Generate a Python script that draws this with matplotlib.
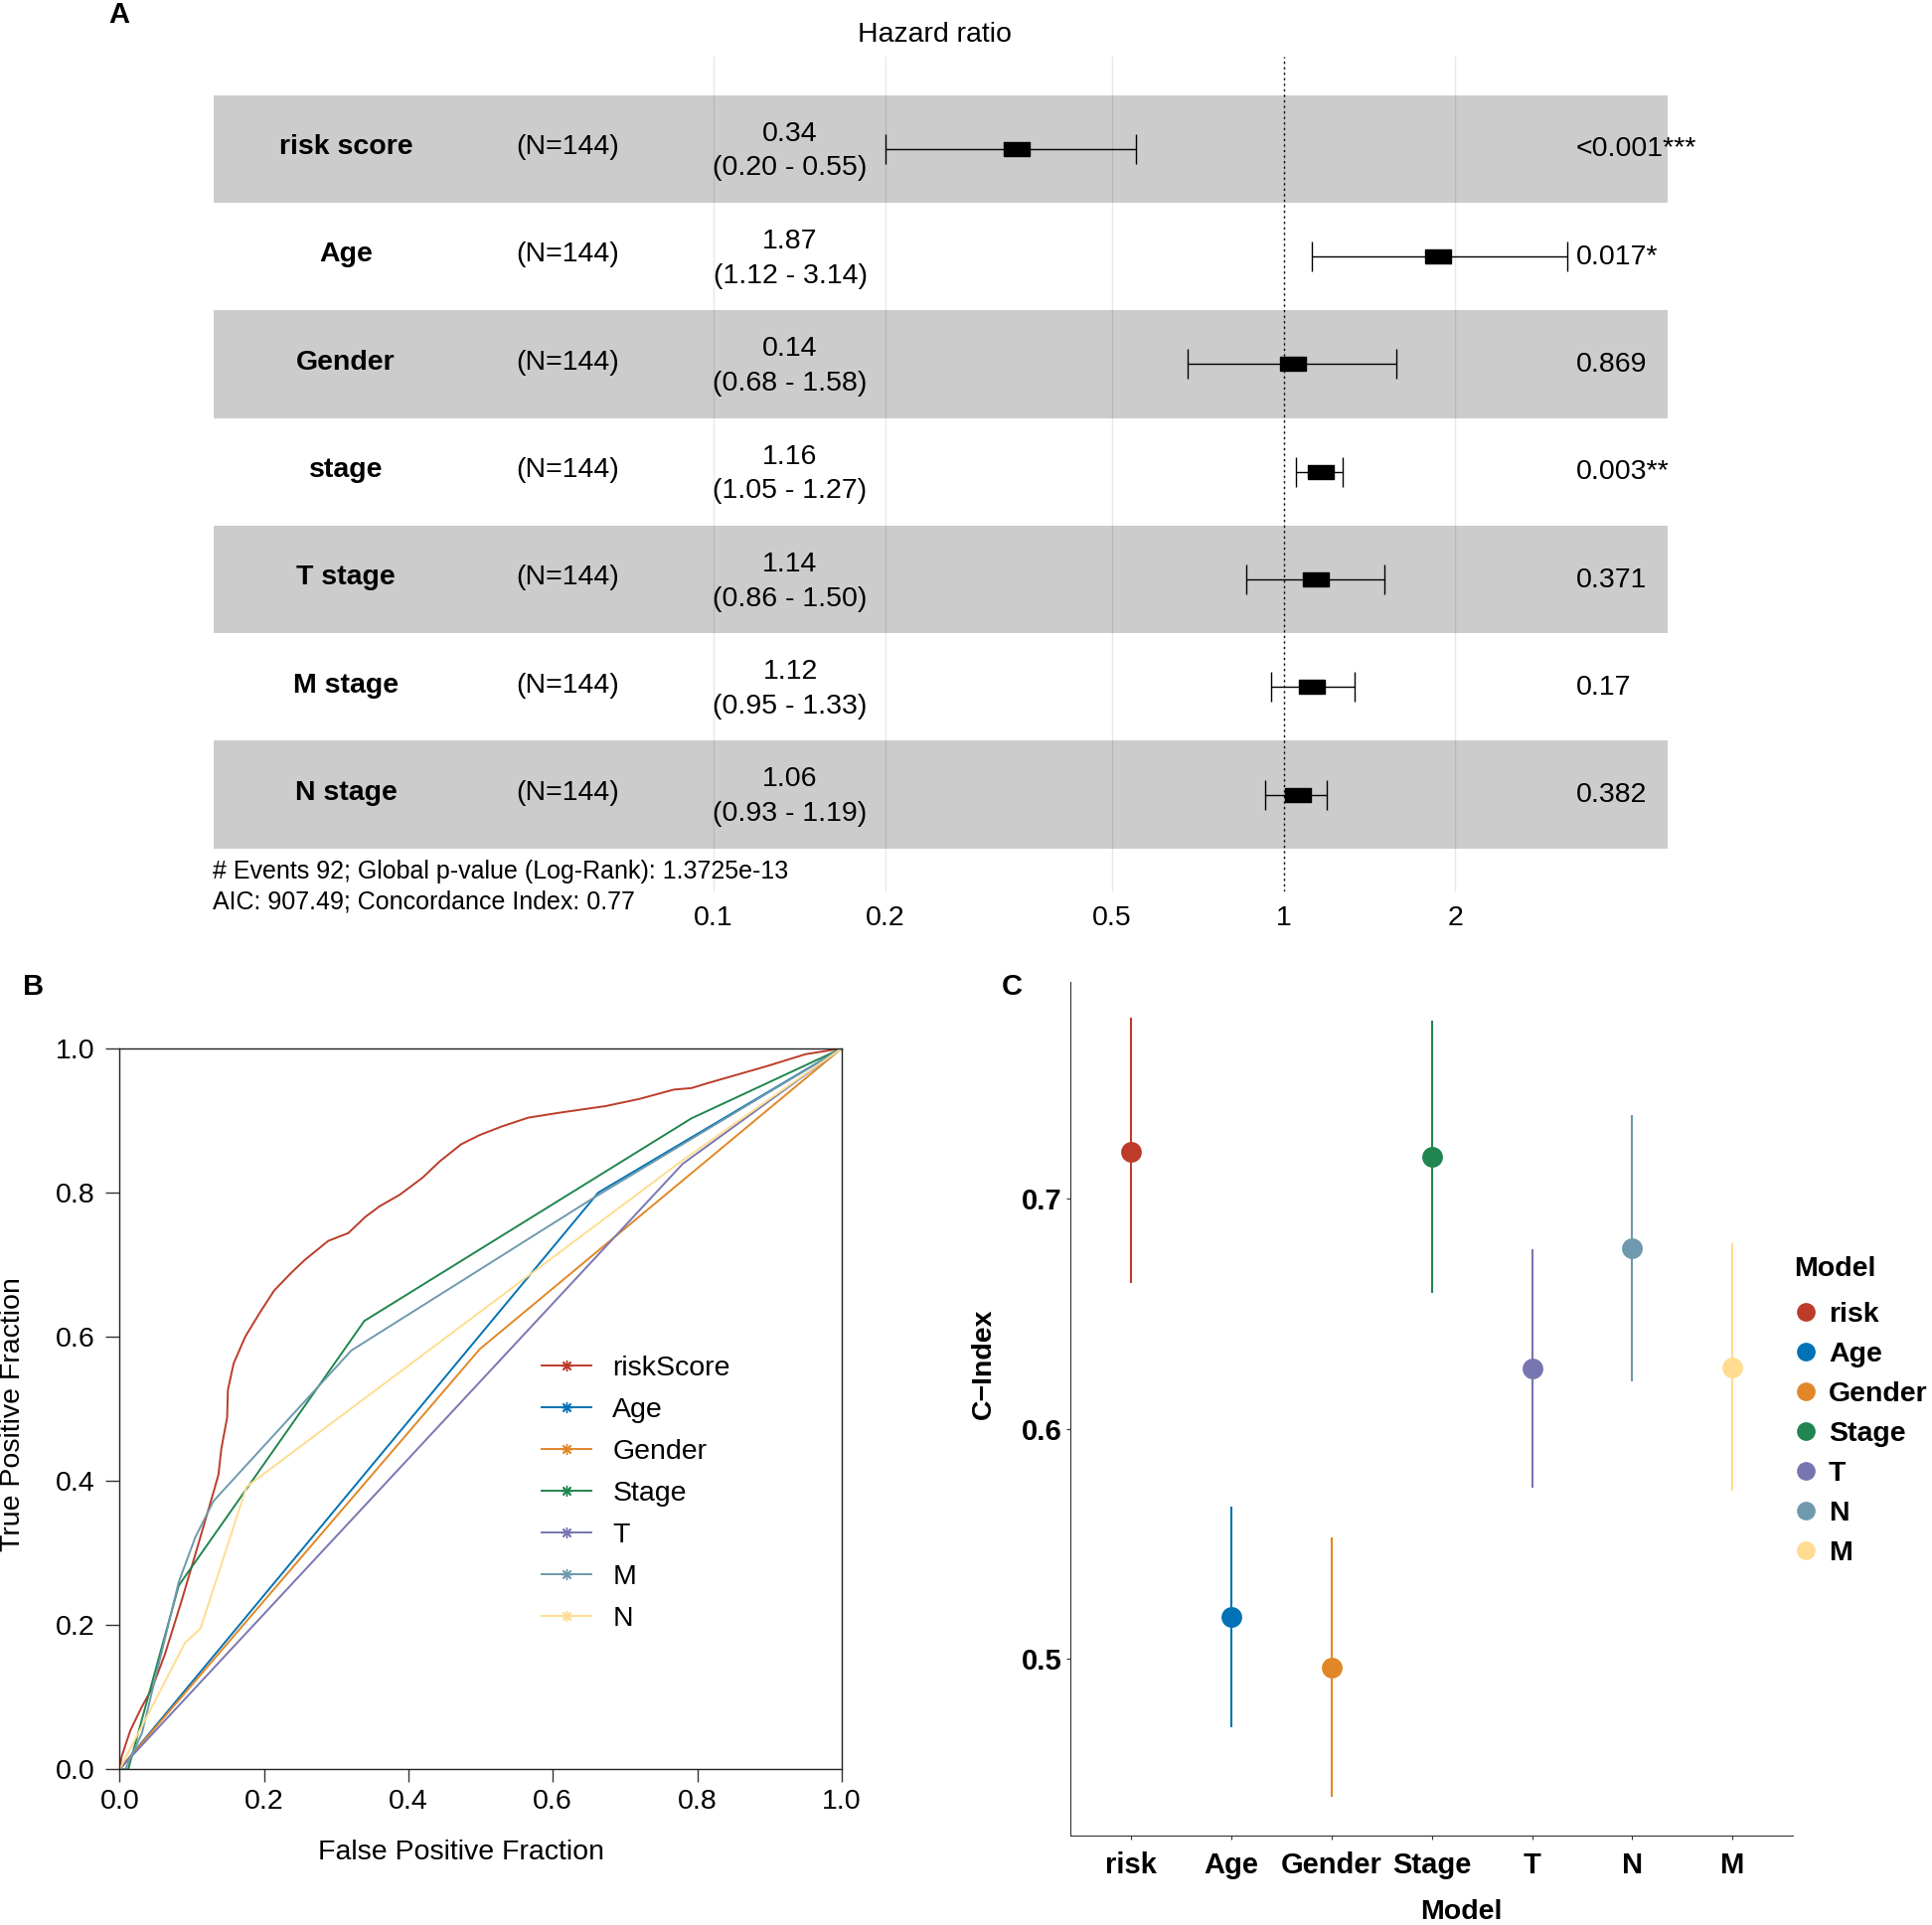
import numpy as np
import matplotlib
matplotlib.use('Agg')
import matplotlib.pyplot as plt
import matplotlib.transforms as mtransforms
from matplotlib.lines import Line2D

plt.rcParams['font.family'] = ['Liberation Sans', 'DejaVu Sans']

W, H = 1944, 1937  # output size in px (dpi 100)

def fx(px):
    return px / W

def fy(py):
    return 1 - py / H

# ---------------- panel A data (forest plot) ----------------
variables = ['risk score', 'Age', 'Gender', 'stage', 'T stage', 'M stage', 'N stage']
n_text = ['(N=144)'] * 7
hr = [0.34, 1.87, 1.04, 1.16, 1.14, 1.12, 1.06]
ci_lo = [0.20, 1.12, 0.68, 1.05, 0.86, 0.95, 0.93]
ci_hi = [0.55, 3.14, 1.58, 1.27, 1.50, 1.33, 1.19]
hr_text = ['0.34', '1.87', '0.14', '1.16', '1.14', '1.12', '1.06']
ci_text = ['(0.20 - 0.55)', '(1.12 - 3.14)', '(0.68 - 1.58)', '(1.05 - 1.27)',
           '(0.86 - 1.50)', '(0.95 - 1.33)', '(0.93 - 1.19)']
p_text = ['<0.001***', '0.017*', '0.869', '0.003**', '0.371', '0.17', '0.382']
hr_ticks = [0.1, 0.2, 0.5, 1, 2]
foot1 = '# Events 92; Global p-value (Log-Rank): 1.3725e-13'
foot2 = 'AIC: 907.49; Concordance Index: 0.77'

# ---------------- panel B data (ROC curves) ----------------
roc_names = ['riskScore', 'Age', 'Gender', 'Stage', 'T', 'M', 'N']
roc_colors = ['#BC3C29', '#0072B5', '#E18727', '#20854E', '#7876B1', '#6F99AD', '#FFDC91']
fpr_risk = [0, 0.003, 0.015, 0.031, 0.045, 0.063, 0.086, 0.109, 0.132, 0.137, 0.141, 0.149,
            0.150, 0.158, 0.174, 0.194, 0.214, 0.238, 0.257, 0.289, 0.317, 0.340, 0.360,
            0.388, 0.420, 0.443, 0.473, 0.499, 0.530, 0.566, 0.610, 0.673, 0.720, 0.768,
            0.792, 0.815, 0.895, 0.950, 1.0]
tpr_risk = [0, 0.018, 0.054, 0.087, 0.112, 0.160, 0.234, 0.312, 0.391, 0.409, 0.445, 0.488,
            0.526, 0.563, 0.600, 0.633, 0.664, 0.689, 0.707, 0.733, 0.744, 0.766, 0.781,
            0.797, 0.821, 0.843, 0.867, 0.880, 0.892, 0.904, 0.911, 0.920, 0.930, 0.943,
            0.945, 0.952, 0.975, 0.992, 1.0]
fpr_age = [0, 0.663, 1.0]
tpr_age = [0, 0.800, 1.0]
fpr_gender = [0, 0.499, 1.0]
tpr_gender = [0, 0.583, 1.0]
fpr_stage = [0, 0.012, 0.082, 0.339, 0.792, 1.0]
tpr_stage = [0, 0.0, 0.255, 0.622, 0.903, 1.0]
fpr_t = [0, 0.780, 1.0]
tpr_t = [0, 0.840, 1.0]
fpr_m = [0, 0.008, 0.031, 0.082, 0.105, 0.130, 0.321, 0.657, 1.0]
tpr_m = [0, 0.0, 0.050, 0.260, 0.322, 0.372, 0.581, 0.793, 1.0]
fpr_n = [0, 0.091, 0.112, 0.176, 0.780, 1.0]
tpr_n = [0, 0.176, 0.195, 0.392, 0.845, 1.0]
roc_fpr = [fpr_risk, fpr_age, fpr_gender, fpr_stage, fpr_t, fpr_m, fpr_n]
roc_tpr = [tpr_risk, tpr_age, tpr_gender, tpr_stage, tpr_t, tpr_m, tpr_n]

# ---------------- panel C data (C-index) ----------------
models = ['risk', 'Age', 'Gender', 'Stage', 'T', 'N', 'M']
model_colors = ['#BC3C29', '#0072B5', '#E18727', '#20854E', '#7876B1', '#6F99AD', '#FFDC91']
cindex = [0.7205, 0.518, 0.4962, 0.7185, 0.6262, 0.6785, 0.6267]
cindex_lo = [0.6632, 0.470, 0.440, 0.6591, 0.5744, 0.6207, 0.5730]
cindex_hi = [0.7788, 0.5663, 0.5526, 0.7774, 0.6780, 0.7365, 0.6807]

fig = plt.figure(figsize=(W / 100, H / 100), dpi=100)

# =============== A: forest plot ===============
FS_A = 20.5
axA = fig.add_axes([fx(214.5), fy(897), fx(1677.5) - fx(214.5), (897 - 57) / H])
axA.set_xscale('log')
axA.set_xlim(10 ** -1.878, 10 ** 0.673)
axA.set_ylim(6.899, -0.857)
for s in axA.spines.values():
    s.set_visible(False)
rows = np.arange(len(variables))
for i in rows:
    if i % 2 == 0:
        axA.axhspan(i - 0.5, i + 0.5, color='#CCCCCC', lw=0, zorder=0)
for t in hr_ticks:
    axA.axvline(t, color='black', alpha=0.09, lw=1.0, zorder=1)
axA.axvline(1, color='black', ls=(0, (1.5, 2.5)), lw=1.0, zorder=2)
hr_a = np.array(hr)
axA.errorbar(hr_a, rows, xerr=[hr_a - np.array(ci_lo), np.array(ci_hi) - hr_a],
             fmt='none', ecolor='black', elinewidth=1.0, capsize=11, capthick=1.0, zorder=3)
box = [(-13, -7), (13, -7), (13, 7), (-13, 7), (-13, -7)]
axA.plot(hr_a, rows, ls='none', marker=box, ms=18.7, color='black', zorder=4)
axA.set_yticks([])
axA.set_xticks(hr_ticks)
axA.set_xticklabels([str(t) for t in hr_ticks])
axA.minorticks_off()
axA.tick_params(axis='x', length=0, pad=10, labelsize=FS_A)

trA = mtransforms.blended_transform_factory(fig.transFigure, axA.transData)
for i in rows:
    axA.text(fx(348), i - 0.015, variables[i], transform=trA, ha='center', va='center',
             fontsize=FS_A, fontweight='bold')
    axA.text(fx(571), i - 0.015, n_text[i], transform=trA, ha='center', va='center',
             fontsize=FS_A)
    axA.text(fx(795), i - 0.14, hr_text[i], transform=trA, ha='center', va='center',
             fontsize=FS_A)
    axA.text(fx(795), i + 0.18, ci_text[i], transform=trA, ha='center', va='center',
             fontsize=FS_A)
    axA.text(fx(1586), i + 0.005, p_text[i], transform=trA, ha='left', va='center',
             fontsize=FS_A)
fig.text(fx(940), fy(35), 'Hazard ratio', ha='center', va='center', fontsize=FS_A)
fig.text(fx(214), fy(877), foot1, ha='left', va='center', fontsize=18)
fig.text(fx(214), fy(907), foot2, ha='left', va='center', fontsize=18)
fig.text(fx(120), fy(15), 'A', ha='center', va='center', fontsize=21, fontweight='bold')

# =============== B: ROC curves ===============
FS_B = 20.5
axB = fig.add_axes([fx(120.3), fy(1780.3), fx(846.8) - fx(120.3), (1780.3 - 1055) / H])
for name, c, xs, ys in zip(roc_names, roc_colors, roc_fpr, roc_tpr):
    axB.plot(xs, ys, color=c, lw=1.4)
axB.set_xlim(0, 1)
axB.set_ylim(0, 1)
axB.set_xticks(np.arange(0, 1.01, 0.2))
axB.set_yticks(np.arange(0, 1.01, 0.2))
axB.set_xticklabels(['0.0', '0.2', '0.4', '0.6', '0.8', '1.0'])
axB.set_yticklabels(['0.0', '0.2', '0.4', '0.6', '0.8', '1.0'])
axB.tick_params(axis='x', length=9, width=1, pad=5, labelsize=FS_B, color='#333333')
axB.tick_params(axis='y', length=10, width=1, pad=8, labelsize=FS_B, color='#333333')
for s in axB.spines.values():
    s.set_linewidth(1.0)
    s.set_color('#222222')
handles = [Line2D([], [], color=c, lw=1.4, marker=(8, 2, 0), ms=8, mew=1.0)
           for c in roc_colors]
legB = fig.legend(handles, roc_names, loc='upper left', bbox_to_anchor=(fx(545), fy(1364)),
                  frameon=False, fontsize=FS_B, handlelength=1.75, handletextpad=0.75,
                  labelspacing=0.56, borderpad=0, borderaxespad=0)
fig.text(fx(464), fy(1864), 'False Positive Fraction', ha='center', va='center', fontsize=FS_B)
fig.text(fx(13), fy(1423), 'True Positive Fraction', ha='center', va='center',
         rotation=90, fontsize=FS_B)
fig.text(fx(34), fy(993), 'B', ha='center', va='center', fontsize=21, fontweight='bold')

# =============== C: C-index ===============
FS_C = 20.5
axC = fig.add_axes([fx(1077.4), fy(1847.3), fx(1803.9) - fx(1077.4), (1847.3 - 988.1) / H])
xpos = np.arange(1, len(models) + 1)
axC.vlines(xpos, cindex_lo, cindex_hi, colors=model_colors, lw=1.5)
for x, v, c in zip(xpos, cindex, model_colors):
    axC.plot(x, v, 'o', color=c, ms=15, mew=0)
axC.set_xlim(0.4, 7.6)
axC.set_ylim(0.4228, 0.7944)
axC.set_xticks(xpos)
axC.set_xticklabels(models)
axC.set_yticks([0.5, 0.6, 0.7])
axC.set_yticklabels(['0.5', '0.6', '0.7'])
axC.tick_params(axis='both', length=3, width=0.8, labelsize=FS_C + 0.5, color='#333333')
axC.tick_params(axis='x', pad=8)
for lab in axC.get_xticklabels() + axC.get_yticklabels():
    lab.set_fontweight('bold')
axC.spines['top'].set_visible(False)
axC.spines['right'].set_visible(False)
axC.spines['left'].set_color('#333333')
axC.spines['bottom'].set_color('#333333')
fig.text(fx(1470), fy(1924), 'Model', ha='center', va='center', fontsize=FS_C,
         fontweight='bold')
fig.text(fx(990), fy(1372), 'C\u2212Index', ha='center', va='center', rotation=90,
         fontsize=FS_C, fontweight='bold')
fig.text(fx(1018), fy(993), 'C', ha='center', va='center', fontsize=21, fontweight='bold')

fig.text(fx(1805), fy(1277), 'Model', ha='left', va='center', fontsize=FS_C,
         fontweight='bold')
handlesC = [Line2D([], [], ls='none', marker='o', color=c, ms=13.5, mew=0) for c in model_colors]
legC = fig.legend(handlesC, models, loc='upper left', bbox_to_anchor=(fx(1803), fy(1310)),
                  frameon=False, handlelength=1.0, handletextpad=0.3,
                  labelspacing=0.49, borderpad=0, borderaxespad=0,
                  prop={'weight': 'bold', 'size': FS_C})

fig.savefig('out.png', dpi=100)
